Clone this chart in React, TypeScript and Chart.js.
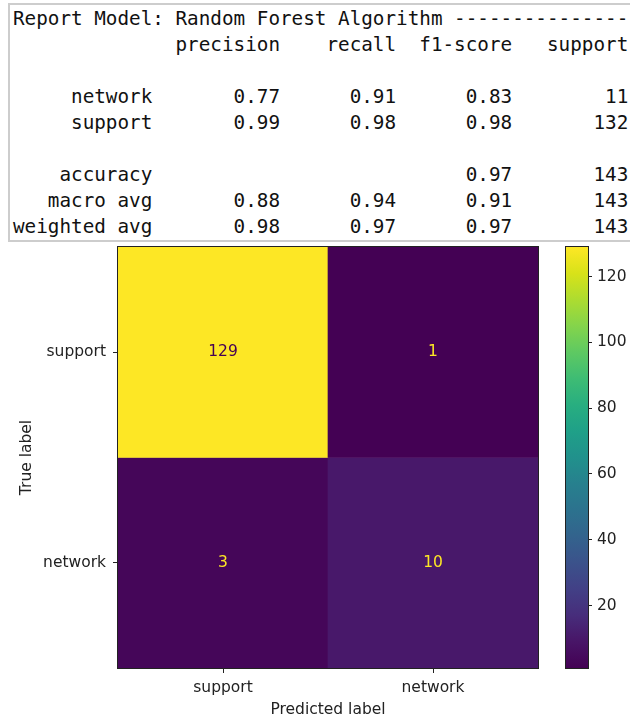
import React, { useEffect, useRef } from "react";
import { Chart, registerables } from "chart.js";

Chart.register(...registerables);

// ---------- report data ----------
const reportTitle = "Report Model: Random Forest Algorithm ------------------------------";
const reportColumns = ["precision", "recall", "f1-score", "support"];
const classNames = ["network", "support"];
const classPrecision = [0.77, 0.99];
const classRecall = [0.91, 0.98];
const classF1 = [0.83, 0.98];
const classSupport = [11, 132];
const accuracyValue = 0.97;
const totalSupport = 143;
const avgNames = ["macro avg", "weighted avg"];
const avgPrecision = [0.88, 0.98];
const avgRecall = [0.94, 0.97];
const avgF1 = [0.91, 0.97];

// ---------- confusion matrix data ----------
const trueLabels = ["support", "network"];
const predLabels = ["support", "network"];
const rowSupport = [129, 1];
const rowNetwork = [3, 10];
const matrix = [rowSupport, rowNetwork];
const colorbarTicks = [20, 40, 60, 80, 100, 120];

// viridis approximation
const viridisStops: [number, number[]][] = [
  [0, [68, 1, 84]],
  [0.0625, [72, 21, 103]],
  [0.125, [71, 45, 123]],
  [0.1875, [66, 64, 134]],
  [0.25, [59, 82, 139]],
  [0.3125, [51, 99, 141]],
  [0.375, [44, 114, 142]],
  [0.4375, [39, 128, 142]],
  [0.5, [33, 145, 140]],
  [0.5625, [31, 160, 136]],
  [0.625, [40, 174, 128]],
  [0.6875, [62, 188, 116]],
  [0.75, [94, 201, 98]],
  [0.8125, [132, 212, 75]],
  [0.875, [173, 220, 48]],
  [0.9375, [216, 226, 25]],
  [1, [253, 231, 37]],
];

function viridis(t: number): string {
  const x = Math.max(0, Math.min(1, t));
  for (let i = 0; i < viridisStops.length - 1; i++) {
    const [t0, c0] = viridisStops[i];
    const [t1, c1] = viridisStops[i + 1];
    if (x >= t0 && x <= t1) {
      const f = (x - t0) / (t1 - t0);
      const c = c0.map((v, k) => Math.round(v + (c1[k] - v) * f));
      return `rgb(${c[0]},${c[1]},${c[2]})`;
    }
  }
  const c = viridisStops[viridisStops.length - 1][1];
  return `rgb(${c[0]},${c[1]},${c[2]})`;
}

const allValues = matrix.flat();
const vmin = Math.min(...allValues);
const vmax = Math.max(...allValues);
const norm = (v: number) => (v - vmin) / (vmax - vmin);

function buildReport(): string {
  const w = 12;
  const f = (v: number) => " " + v.toFixed(2).padStart(9);
  const lines: string[] = [];
  lines.push(reportTitle);
  lines.push(" ".repeat(w) + " " + reportColumns.map((c) => " " + c.padStart(9)).join(""));
  lines.push("");
  classNames.forEach((n, i) => {
    lines.push(
      n.padStart(w) + " " + f(classPrecision[i]) + f(classRecall[i]) + f(classF1[i]) + " " + String(classSupport[i]).padStart(9)
    );
  });
  lines.push("");
  lines.push("accuracy".padStart(w) + " " + " ".repeat(20) + f(accuracyValue) + " " + String(totalSupport).padStart(9));
  avgNames.forEach((n, i) => {
    lines.push(
      n.padStart(w) + " " + f(avgPrecision[i]) + f(avgRecall[i]) + f(avgF1[i]) + " " + String(totalSupport).padStart(9)
    );
  });
  return lines.join("\n");
}

const FONT = "DejaVu Sans";
const TXT = "#222";
const FS = 15.5;

const framePlugin = {
  id: "frame",
  afterDatasetsDraw(chart: any) {
    const { ctx, chartArea: a } = chart;
    ctx.save();
    ctx.strokeStyle = "#222";
    ctx.lineWidth = 1;
    ctx.strokeRect(a.left - 0.5, a.top - 0.5, a.right - a.left + 1, a.bottom - a.top + 1);
    ctx.restore();
  },
};

const annotatePlugin = {
  id: "annotate",
  afterDatasetsDraw(chart: any) {
    const { ctx } = chart;
    ctx.save();
    ctx.font = `${FS}px "${FONT}"`;
    ctx.textAlign = "center";
    ctx.textBaseline = "middle";
    matrix.forEach((row, i) => {
      const meta = chart.getDatasetMeta(i);
      row.forEach((v, j) => {
        const el: any = meta.data[j];
        if (!el) return;
        const cx = el.x;
        const cy = (el.y + el.base) / 2;
        ctx.fillStyle = norm(v) < 0.5 ? viridis(1) : viridis(0);
        ctx.fillText(String(v), cx, cy);
      });
    });
    ctx.restore();
  },
};

const zeroPad = (s: any) => {
  s.paddingTop = 0;
  s.paddingBottom = 0;
  s.paddingLeft = 0;
  s.paddingRight = 0;
};

function Heatmap() {
  const ref = useRef<HTMLCanvasElement>(null);
  useEffect(() => {
    if (!ref.current) return;
    const chart = new Chart(ref.current, {
      type: "bar",
      data: {
        labels: predLabels,
        datasets: trueLabels.map((t, i) => ({
          label: t,
          data: matrix[i].map(() => [i, i + 1]),
          backgroundColor: matrix[i].map((v) => viridis(norm(v))),
          borderWidth: 0,
          barPercentage: 1,
          categoryPercentage: 1,
          grouped: false,
        })),
      } as any,
      options: {
        animation: false,
        responsive: false,
        devicePixelRatio: 1,
        layout: { padding: { top: 7, right: 10, left: 0, bottom: 0 } },
        plugins: { legend: { display: false }, tooltip: { enabled: false } },
        scales: {
          x: {
            type: "category",
            grid: { display: true, drawOnChartArea: false, drawTicks: true, tickLength: 5, color: TXT, offset: false },
            border: { display: false },
            ticks: { color: TXT, font: { family: FONT, size: FS }, padding: 6, maxRotation: 0, autoSkip: false },
            title: { display: true, text: "Predicted label", color: TXT, font: { family: FONT, size: FS }, padding: { top: 0, bottom: 1 } },
            afterFit: (s: any) => {
              s.height = 52;
              zeroPad(s);
            },
          },
          y: {
            type: "linear",
            min: 0,
            max: 2,
            reverse: true,
            afterBuildTicks: (s: any) => {
              s.ticks = trueLabels.map((_, i) => ({ value: i + 0.5 }));
            },
            grid: { display: true, drawOnChartArea: false, drawTicks: true, tickLength: 5, color: TXT },
            border: { display: false },
            ticks: {
              color: TXT,
              font: { family: FONT, size: FS },
              padding: 7,
              callback: (_v: any, idx: number) => trueLabels[idx],
            },
            title: { display: true, text: "True label", color: TXT, font: { family: FONT, size: FS }, padding: { top: 18, bottom: 0 } },
            afterFit: (s: any) => {
              s.width = 118;
              zeroPad(s);
            },
          },
        },
      } as any,
      plugins: [framePlugin, annotatePlugin],
    });
    return () => chart.destroy();
  }, []);
  return (
    <canvas
      ref={ref}
      width={548}
      height={480}
      style={{ position: "absolute", left: 0, top: 240, width: 548, height: 480 }}
    />
  );
}

function Colorbar() {
  const ref = useRef<HTMLCanvasElement>(null);
  useEffect(() => {
    if (!ref.current) return;
    const chart = new Chart(ref.current, {
      type: "bar",
      data: {
        labels: ["colorbar"],
        datasets: [
          {
            label: "count",
            data: [[vmin, vmax]],
            backgroundColor: (c: any) => {
              const ch = c.chart;
              const a = ch.chartArea;
              if (!a) return viridis(0);
              const g = ch.ctx.createLinearGradient(0, a.bottom, 0, a.top);
              viridisStops.forEach(([t]) => g.addColorStop(t, viridis(t)));
              return g;
            },
            borderWidth: 0,
            barPercentage: 1,
            categoryPercentage: 1,
          },
        ],
      } as any,
      options: {
        animation: false,
        responsive: false,
        devicePixelRatio: 1,
        layout: { padding: { top: 7, right: 0, left: 6, bottom: 52 } },
        plugins: { legend: { display: false }, tooltip: { enabled: false } },
        scales: {
          x: { display: false },
          y: {
            position: "right",
            min: vmin,
            max: vmax,
            afterBuildTicks: (s: any) => {
              s.ticks = colorbarTicks.map((v) => ({ value: v }));
            },
            grid: { display: true, drawOnChartArea: false, drawTicks: true, tickLength: 4, color: TXT },
            border: { display: false },
            ticks: { color: TXT, font: { family: FONT, size: FS }, padding: 5 },
            afterFit: (s: any) => {
              s.width = 42;
              zeroPad(s);
            },
          },
        },
      } as any,
      plugins: [framePlugin],
    });
    return () => chart.destroy();
  }, []);
  return (
    <canvas
      ref={ref}
      width={70}
      height={480}
      style={{ position: "absolute", left: 560, top: 240, width: 70, height: 480 }}
    />
  );
}

export default function App() {
  return (
    <div
      style={{
        position: "absolute",
        left: 0,
        top: 0,
        width: 630,
        height: 720,
        overflow: "hidden",
        background: "#fff",
      }}
    >
      <pre
        style={{
          position: "absolute",
          left: 8,
          top: 3,
          width: 660,
          height: 239,
          margin: 0,
          boxSizing: "border-box",
          border: "2px solid #cdcdcd",
          borderRight: "none",
          padding: "1px 0 0 3px",
          fontFamily: '"DejaVu Sans Mono", monospace',
          fontSize: "19.3px",
          lineHeight: "26px",
          color: "#111",
          background: "#fff",
          overflow: "hidden",
        }}
      >
        {buildReport()}
      </pre>
      <Heatmap />
      <Colorbar />
    </div>
  );
}
